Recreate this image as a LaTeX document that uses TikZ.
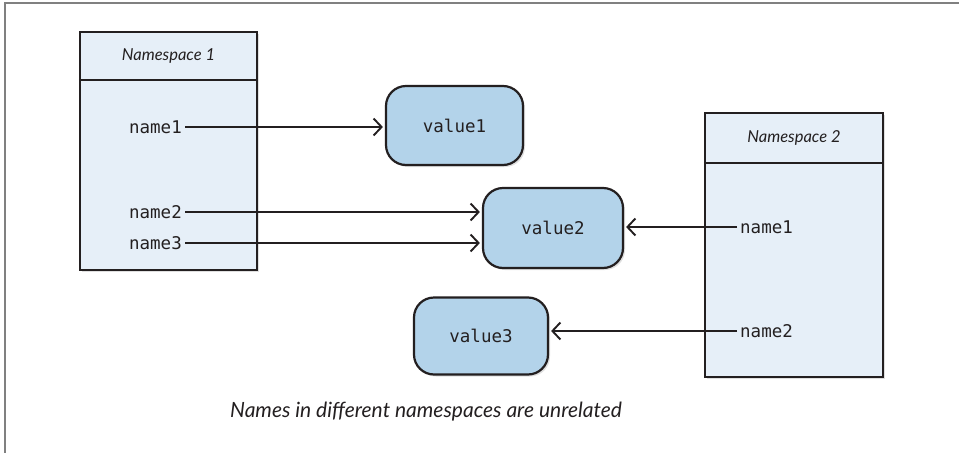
\documentclass[tikz,border=0pt]{standalone}
\usepackage{fontspec}
\setmonofont{DejaVu Sans Mono}
\newfontfamily\capfont{Lato}
\usetikzlibrary{arrows.meta,shadows}
\definecolor{nsfill}{HTML}{E6EFF8}
\definecolor{valfill}{HTML}{B3D3EA}
\definecolor{ink}{HTML}{231F20}
\begin{document}
\begin{tikzpicture}[x=1pt,y=-1pt,
  nsbox/.style={draw=ink,line width=2.2pt,fill=nsfill,drop shadow={opacity=0.25,shadow xshift=2pt,shadow yshift=-2pt}},
  valbox/.style={draw=ink,line width=2.2pt,fill=valfill,rounded corners=20pt,
    font=\ttfamily\fontsize{17.5}{20}\selectfont,text=ink,
    drop shadow={opacity=0.25,shadow xshift=2pt,shadow yshift=-2pt}},
  nm/.style={font=\ttfamily\fontsize{17.5}{20}\selectfont,text=ink,inner sep=3pt},
  ital/.style={font=\capfont\itshape\fontsize{16.5}{18}\selectfont,text=ink},
  ref/.style={draw=ink,line width=1.9pt,shorten >=2pt,
    -{Straight Barb[length=8pt,width=17pt,line width=1.9pt]}}]
\useasboundingbox(0,0)rectangle(959,453);
\draw[gray,line width=1.6pt](959,3)--(5,3)--(5,453);
% namespace boxes
\node[nsbox,minimum width=177pt,minimum height=238pt](ns1)at(168.5,151){};
\draw[ink,line width=2.2pt](ns1.west|-0,80)--(ns1.east|-0,80);
\node[ital](h1)at(168.5,56){Namespace 1};
\node[nsbox,minimum width=178pt,minimum height=264pt](ns2)at(794,245){};
\draw[ink,line width=2.2pt](ns2.west|-0,163)--(ns2.east|-0,163);
\node[ital](h2)at(794,138){Namespace 2};
% values
\node[valbox,minimum width=137pt,minimum height=79pt](v1)at(454.5,125.5){value1};
\node[valbox,minimum width=140pt,minimum height=80pt](v2)at(553,228){value2};
\node[valbox,minimum width=134pt,minimum height=77pt](v3)at(481,336){value3};
% names
\foreach \n/\y in{1/127,2/212,3/243}
  \node[nm,anchor=east](a\n)at(185,\y){name\n};
\foreach \n/\y in{1/227,2/331}
  \node[nm,anchor=west](b\n)at(737,\y){name\n};
\draw[ref](a1.east)--(a1.east-|v1.west);
\draw[ref](a2.east)--(a2.east-|v2.west);
\draw[ref](a3.east)--(a3.east-|v2.west);
\draw[ref](b1.west)--(b1.west-|v2.east);
\draw[ref](b2.west)--(b2.west-|v3.east);
\node[ital,font=\capfont\itshape\fontsize{21}{24}\selectfont](cap)at(426,412)
  {Names in different namespaces are unrelated};
\end{tikzpicture}
\end{document}
